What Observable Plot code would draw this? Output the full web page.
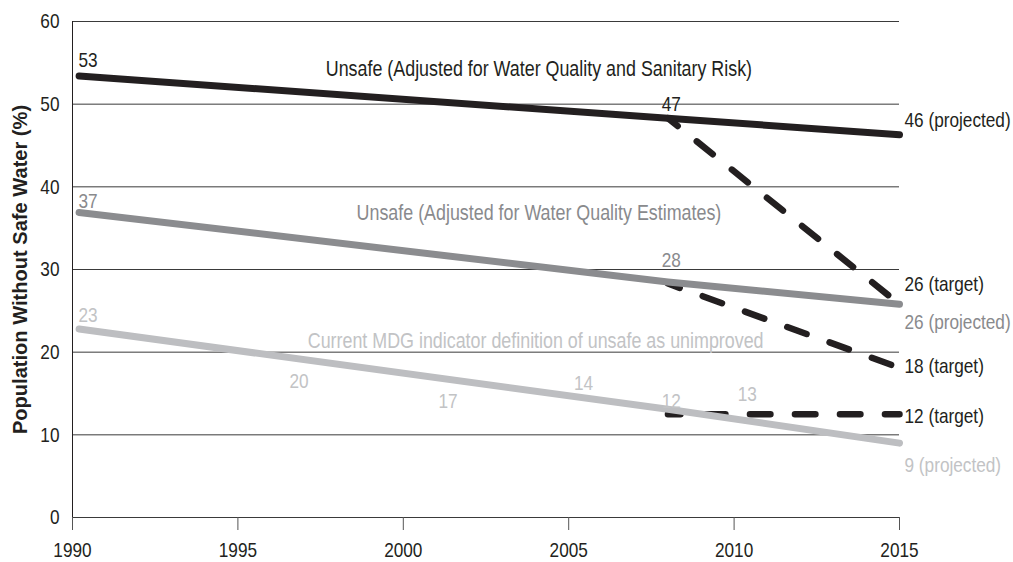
<!DOCTYPE html>
<html><head><meta charset="utf-8">
<script src="https://cdn.jsdelivr.net/npm/d3@7"></script>
<script src="https://cdn.jsdelivr.net/npm/@observablehq/plot@0.6"></script>
<style>
body{margin:0;background:#fff;}
#chart svg{display:block;}
</style></head><body><div id="chart"></div>
<script>
// ---- data ----
const seriesYears = [1990.2, 2008, 2015];
const riskSeries = [53.4, 48.3, 46.3];      // Unsafe (water quality and sanitary risk)
const qualitySeries = [36.9, 28.5, 25.8];   // Unsafe (water quality estimates)
const mdgSeries = [22.8, 13.1, 9.0];        // Current MDG indicator
const targetYears = [2008, 2015];
const riskTarget = [48.3, 25.8];
const qualityTarget = [28.3, 18.1];
const mdgTarget = [12.5, 12.5];
const yTicks = [0, 10, 20, 30, 40, 50, 60];
const xTicks = [1990, 1995, 2000, 2005, 2010, 2015];

const seriesNames = ["risk", "quality", "mdg"];
const seriesLabels = [
  "Unsafe (Adjusted for Water Quality and Sanitary Risk)",
  "Unsafe (Adjusted for Water Quality Estimates)",
  "Current MDG indicator definition of unsafe as unimproved"
];
const seriesLabelX = [2004.1, 2004.1, 2004.0];
const seriesLabelY = [54.2, 36.8, 21.4];
const startText = ["53", "37", "23"];
const startY = [55.3, 38.3, 24.5];
const midText = ["47", "28", "12"];
const midY = [50.0, 31.1, 14.1];
const extraText = ["20", "17", "14", "13"];
const extraX = [1996.85, 2001.35, 2005.45, 2010.4];
const extraY = [16.5, 14.1, 16.2, 14.9];
const endText = ["46 (projected)", "26 (target)", "26 (projected)", "18 (target)", "12 (target)", "9 (projected)"];
const endY = [48.0, 28.2, 23.6, 18.3, 12.3, 6.3];
const endSeries = ["risk", "risk", "quality", "risk", "risk", "mdg"];
const yLabel = "Population Without Safe Water (%)";

// ---- styles ----
const colors = {risk: "#231f20", quality: "#8b8c8f", mdg: "#bdbec1"};
const textColors = {risk: "#231f20", quality: "#898a8d", mdg: "#c2c3c5"};
const font = "'Liberation Sans', Arial, sans-serif";
const narrow = 0.82;

const pairs = (xs, ys) => xs.map((x, i) => [x, ys[i]]);
const dash = {strokeWidth: 6.5, strokeLinecap: "round", strokeDasharray: "20.5,24.5", strokeDashoffset: 8};
const solid = {strokeWidth: 7, strokeLinecap: "round"};

const chart = Plot.plot({
  width: 1013,
  height: 562,
  marginLeft: 72,
  marginRight: 114,
  marginTop: 21,
  marginBottom: 45,
  style: {fontFamily: font, fontSize: "21px", background: "#fff", overflow: "visible", color: "#231f20"},
  x: {domain: [1990, 2015]},
  y: {domain: [0, 60]},
  marks: [
    Plot.ruleY(yTicks, {stroke: "#3a3a3a", strokeWidth: 1}),
    Plot.ruleX([1990], {stroke: "#231f20", strokeWidth: 1}),
    Plot.axisX({ticks: xTicks, tickSize: 13, tickPadding: 12, tickFormat: d => String(d), label: null, stroke: "#555", fill: "#231f20", fontSize: 21}),
    Plot.axisY({ticks: yTicks, tickSize: 0, tickPadding: 13, label: null, fill: "#231f20", fontSize: 21}),
    Plot.text([yLabel], {frameAnchor: "left", textAnchor: "middle", lineAnchor: "middle", rotate: -90, dx: -52, fontWeight: "bold", fontSize: 20.5, fill: "#231f20", className: "ylabel"}),
    // dashed targets (beneath solid lines)
    Plot.line(pairs(targetYears, riskTarget), {stroke: colors.risk, ...dash}),
    Plot.line(pairs(targetYears, qualityTarget), {stroke: colors.risk, ...dash}),
    Plot.line(pairs(targetYears, mdgTarget), {stroke: colors.risk, ...dash}),
    // solid series
    Plot.line(pairs(seriesYears, mdgSeries), {stroke: colors.mdg, ...solid}),
    Plot.line(pairs(seriesYears, qualitySeries), {stroke: colors.quality, ...solid}),
    Plot.line(pairs(seriesYears, riskSeries), {stroke: colors.risk, ...solid}),
    // labels
    Plot.text(seriesNames, {x: (d, i) => seriesLabelX[i], y: (d, i) => seriesLabelY[i], text: (d, i) => seriesLabels[i], fill: d => textColors[d], textAnchor: "middle", lineAnchor: "middle", fontSize: 21.8}),
    Plot.text(seriesNames, {x: () => 1990, y: (d, i) => startY[i], text: (d, i) => startText[i], fill: d => textColors[d], textAnchor: "start", dx: 6, lineAnchor: "middle"}),
    Plot.text(seriesNames, {x: () => 2008.1, y: (d, i) => midY[i], text: (d, i) => midText[i], fill: d => textColors[d], textAnchor: "middle", lineAnchor: "middle"}),
    Plot.text(extraText, {x: (d, i) => extraX[i], y: (d, i) => extraY[i], text: d => d, fill: textColors.mdg, textAnchor: "middle", lineAnchor: "middle"}),
    Plot.text(endText, {x: () => 2015, y: (d, i) => endY[i], text: d => d, fill: (d, i) => textColors[endSeries[i]], textAnchor: "start", dx: 5, lineAnchor: "middle"})
  ]
});
document.getElementById("chart").appendChild(chart);

// condense the type horizontally (the original uses a condensed face)
chart.querySelectorAll("text").forEach(t => {
  const isY = t.closest(".ylabel") !== null;
  const s = isY ? 0.98 : narrow;
  const x = +(t.getAttribute("x") || 0);
  const tr = t.getAttribute("transform") || "";
  t.setAttribute("transform", `${tr} translate(${x},0) scale(${s},1) translate(${-x},0)`);
});
</script>
</body></html>
